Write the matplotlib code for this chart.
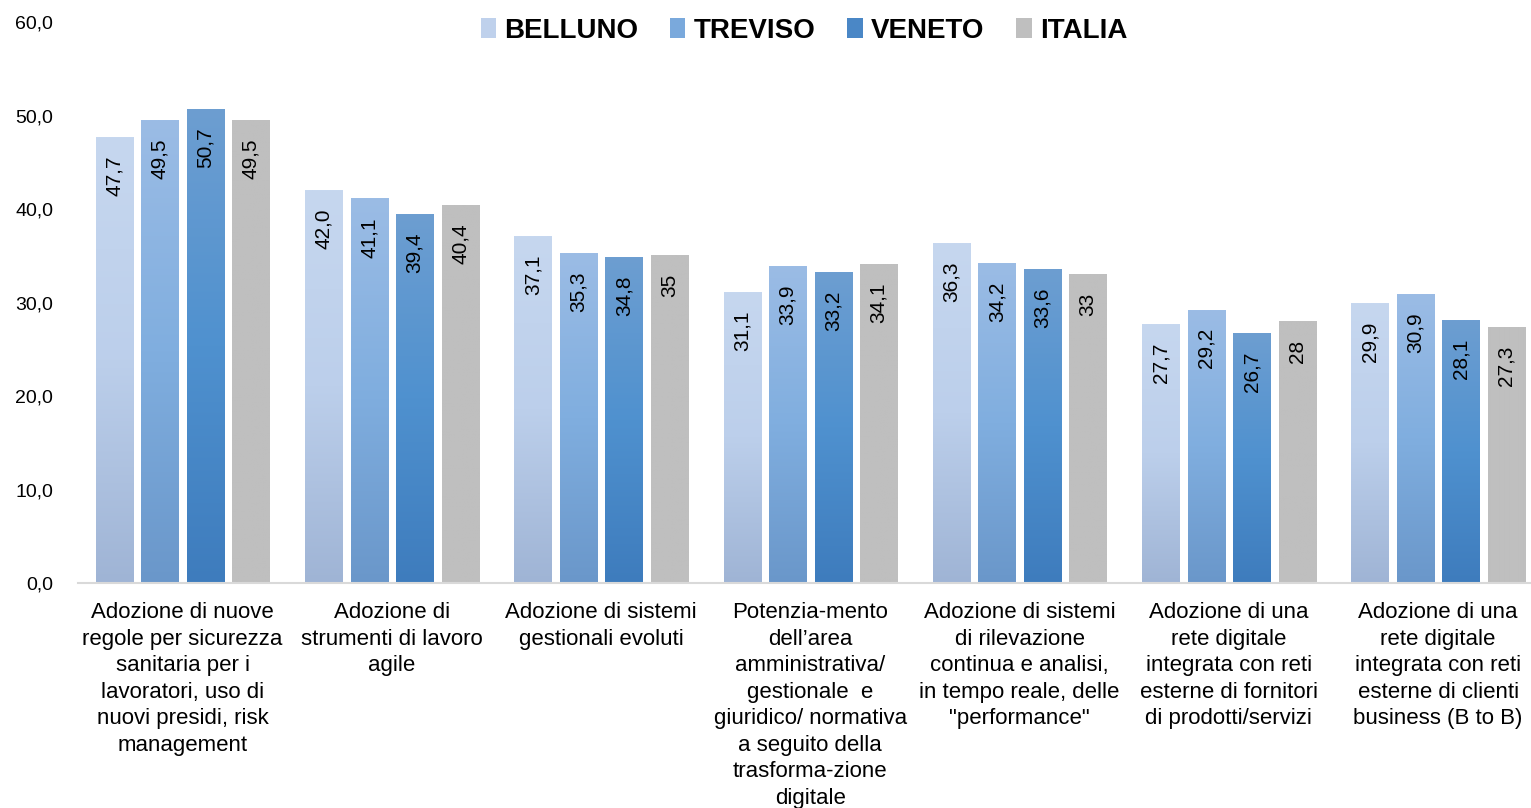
import numpy as np
import matplotlib
matplotlib.use("Agg")
import matplotlib.pyplot as plt
from matplotlib.colors import LinearSegmentedColormap
from matplotlib.patches import Patch

plt.rcParams['font.family'] = ['Liberation Sans', 'DejaVu Sans']

# Data
categories = [
    "Adozione di nuove\nregole per sicurezza\nsanitaria per i\nlavoratori, uso di\nnuovi presidi, risk\nmanagement",
    "Adozione di\nstrumenti di lavoro\nagile",
    "Adozione di sistemi\ngestionali evoluti",
    "Potenzia-mento\ndell\u2019area\namministrativa/\ngestionale  e\ngiuridico/ normativa\na seguito della\ntrasforma-zione\ndigitale",
    "Adozione di sistemi\ndi rilevazione\ncontinua e analisi,\nin tempo reale, delle\n\"performance\"",
    "Adozione di una\nrete digitale\nintegrata con reti\nesterne di fornitori\ndi prodotti/servizi",
    "Adozione di una\nrete digitale\nintegrata con reti\nesterne di clienti\nbusiness (B to B)",
]
series_names = ["BELLUNO", "TREVISO", "VENETO", "ITALIA"]
belluno = [47.7, 42.0, 37.1, 31.1, 36.3, 27.7, 29.9]
treviso = [49.5, 41.1, 35.3, 33.9, 34.2, 29.2, 30.9]
veneto = [50.7, 39.4, 34.8, 33.2, 33.6, 26.7, 28.1]
italia = [49.5, 40.4, 35.0, 34.1, 33.0, 28.0, 27.3]
belluno_labels = ["47,7", "42,0", "37,1", "31,1", "36,3", "27,7", "29,9"]
treviso_labels = ["49,5", "41,1", "35,3", "33,9", "34,2", "29,2", "30,9"]
veneto_labels = ["50,7", "39,4", "34,8", "33,2", "33,6", "26,7", "28,1"]
italia_labels = ["49,5", "40,4", "35", "34,1", "33", "28", "27,3"]
y_ticks = [0, 10, 20, 30, 40, 50, 60]
y_tick_labels = ["0,0", "10,0", "20,0", "30,0", "40,0", "50,0", "60,0"]

# gradient fills (bottom -> top)
grad_colors = [
    ["#9fb4d5", "#bccfeb", "#c6d7ef"],
    ["#6a97ca", "#80aedf", "#9bbce5"],
    ["#3e7cbd", "#4f91cf", "#6d9ed1"],
    ["#bfbfbf", "#bfbfbf", "#bfbfbf"],
]
legend_colors = ["#bfd1ec", "#7aa9dc", "#4a87c6", "#bfbfbf"]

values = [belluno, treviso, veneto, italia]
labels = [belluno_labels, treviso_labels, veneto_labels, italia_labels]

fig = plt.figure(figsize=(15.31, 8.08), dpi=100)
ax = fig.add_axes([78 / 1531, 225 / 808, 1 - 78 / 1531, (583 - 22.4) / 808])

x = np.arange(len(categories))
width = 0.177
step = 0.2175
grad = np.linspace(0, 1, 256).reshape(-1, 1)

for i, (vals, labs) in enumerate(zip(values, labels)):
    cmap = LinearSegmentedColormap.from_list(series_names[i], grad_colors[i])
    offs = (i - 1.5) * step
    for xi, v, lab in zip(x, vals, labs):
        x0 = xi + offs - width / 2
        ax.imshow(grad, extent=[x0, x0 + width, 0, v], aspect='auto',
                  cmap=cmap, origin='lower', zorder=2, interpolation='bilinear')
        ax.annotate(lab, (xi + offs, v), xytext=(0, -13), textcoords='offset points',
                    rotation=90, ha='center', va='top', fontsize=15, color='#000000',
                    zorder=3)

ax.set_xlim(-0.5, -0.5 + (1531 - 78) / 209.25)
ax.set_ylim(0, 60)
ax.set_yticks(y_ticks)
ax.set_yticklabels(y_tick_labels, fontsize=14)
ax.set_xticks(x)
ax.set_xticklabels(categories, fontsize=16, linespacing=1.34)
ax.tick_params(axis='both', length=0)
ax.tick_params(axis='y', pad=18)
ax.tick_params(axis='x', pad=14)
for s in ['top', 'right', 'left']:
    ax.spines[s].set_visible(False)
ax.spines['bottom'].set_color('#d9d9d9')
ax.spines['bottom'].set_linewidth(1.5)

handles = [Patch(facecolor=c, edgecolor='none') for c in legend_colors]
fig.legend(handles, series_names, loc='center', bbox_to_anchor=(804 / 1531, 1 - 31 / 808),
           ncol=4, frameon=False, handlelength=0.55, handleheight=0.75, handletextpad=0.3,
           columnspacing=1.15, prop={'weight': 'bold', 'size': 20})

fig.savefig("out.png", dpi=100)
